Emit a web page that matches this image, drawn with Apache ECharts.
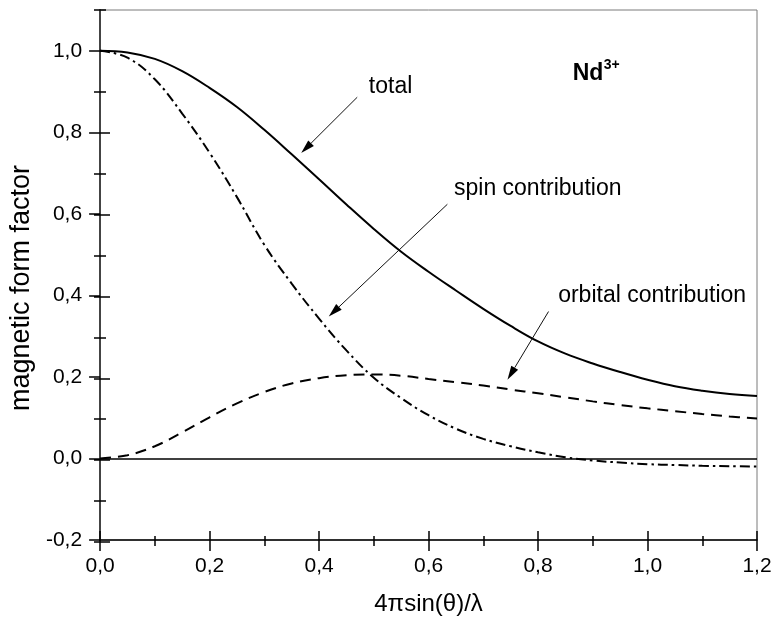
<!DOCTYPE html>
<html>
<head>
<meta charset="utf-8">
<script src="https://cdn.jsdelivr.net/npm/echarts@6/dist/echarts.min.js"></script>
<style>
  html, body { margin: 0; padding: 0; background: #fff; }
  #chart { width: 776px; height: 621px; }
</style>
</head>
<body>
<div id="chart"></div>
<script>
// Scattering vector 4πsin(θ)/λ
const qValues = [0.00, 0.05, 0.10, 0.15, 0.20, 0.25, 0.30, 0.35, 0.40, 0.45, 0.50, 0.55, 0.60,
                 0.65, 0.70, 0.75, 0.80, 0.85, 0.90, 0.95, 1.00, 1.05, 1.10, 1.15, 1.20];

// Magnetic form factor of Nd3+ and its two parts
const totalFF = [1.000, 0.996, 0.980, 0.950, 0.909, 0.862, 0.806, 0.746, 0.685, 0.623, 0.563, 0.507, 0.458,
                 0.412, 0.367, 0.325, 0.287, 0.257, 0.233, 0.212, 0.193, 0.177, 0.166, 0.158, 0.153];
const spinFF = [1.000, 0.983, 0.930, 0.846, 0.750, 0.641, 0.524, 0.429, 0.343, 0.265, 0.198, 0.148, 0.106,
                0.073, 0.048, 0.030, 0.015, 0.003, -0.005, -0.010, -0.014, -0.016, -0.018, -0.019, -0.020];
const orbitalFF = [0.000, 0.008, 0.030, 0.064, 0.101, 0.135, 0.163, 0.184, 0.197, 0.204, 0.206, 0.203, 0.195,
                   0.187, 0.179, 0.169, 0.160, 0.150, 0.140, 0.131, 0.123, 0.116, 0.109, 0.103, 0.098];

// Tick values
const yMajorTicks = [-0.2, 0.0, 0.2, 0.4, 0.6, 0.8, 1.0];
const xTitle = '4πsin(θ)/λ';
const yTitle = 'magnetic form factor';

// Callouts, in data coordinates [q, F]
const callouts = [
  { text: 'total',                at: [0.491, 0.911], from: [0.4697, 0.886], to: [0.3673, 0.749] },
  { text: 'spin contribution',    at: [0.6465, 0.662], from: [0.6344, 0.6235], to: [0.4177, 0.348] },
  { text: 'orbital contribution', at: [0.8368, 0.400], from: [0.8192, 0.3604], to: [0.7442, 0.1932] }
];
const ionLabel = { name: 'Nd', charge: '3+', at: [0.8633, 0.945], chargeAt: [0.920, 0.965] };

const FONT = '"Liberation Sans", Arial, Helvetica, sans-serif';
const fmt = v => v.toFixed(1).replace('.', ',');
const pairs = ys => qValues.map((q, i) => [q, ys[i]]);

const box = { left: 100, right: 19, top: 10, bottom: 79 };
const tickStyle = { color: '#000', width: 1.5 };

const chart = echarts.init(document.getElementById('chart'), null, { renderer: 'canvas' });

// grid 0 carries the data, labels and outward ticks; grids 1-3 add the
// inward half of each tick and the 0.1 minor ticks on the F axis.
const option = {
  animation: false,
  backgroundColor: '#fff',
  grid: [
    Object.assign({ show: true, borderColor: '#7a7a7a', borderWidth: 1, backgroundColor: 'transparent' }, box),
    Object.assign({}, box),
    Object.assign({}, box),
    Object.assign({}, box)
  ],
  xAxis: [
    {
      gridIndex: 0, type: 'value', min: 0, max: 1.2, interval: 0.2, position: 'bottom',
      axisLine: { onZero: false, lineStyle: { color: '#000', width: 1.5 } },
      axisTick: { inside: false, length: 11, lineStyle: tickStyle },
      minorTick: { show: true, splitNumber: 2, length: 6, lineStyle: tickStyle },
      splitLine: { show: false }, minorSplitLine: { show: false },
      axisLabel: { margin: 16, fontSize: 21, color: '#000', fontFamily: FONT, formatter: fmt },
      name: xTitle, nameLocation: 'middle', nameGap: 52,
      nameTextStyle: { fontSize: 24, color: '#000', fontFamily: FONT }
    },
    {
      gridIndex: 1, type: 'value', min: 0, max: 1.2, interval: 0.2, position: 'bottom',
      axisLine: { show: false, onZero: false },
      axisTick: { inside: true, length: 11, lineStyle: tickStyle },
      minorTick: { show: true, splitNumber: 2, length: 6, lineStyle: tickStyle },
      splitLine: { show: false }, axisLabel: { show: false }
    },
    { gridIndex: 2, type: 'value', min: 0, max: 1.2, show: false },
    { gridIndex: 3, type: 'value', min: 0, max: 1.2, show: false }
  ],
  yAxis: [
    {
      gridIndex: 0, type: 'value', min: -0.2, max: 1.1, interval: 0.2, position: 'left',
      axisLine: { onZero: false, lineStyle: { color: '#444', width: 2 } },
      axisTick: { inside: false, length: 11, lineStyle: tickStyle, customValues: yMajorTicks },
      splitLine: { show: false },
      axisLabel: { margin: 18, fontSize: 21, color: '#000', fontFamily: FONT, formatter: fmt, customValues: yMajorTicks },
      name: yTitle, nameLocation: 'middle', nameGap: 56,
      nameTextStyle: { fontSize: 27, color: '#000', fontFamily: FONT, padding: [0, 26, 0, 0] }
    },
    {
      gridIndex: 1, type: 'value', min: -0.2, max: 1.1, interval: 0.2, position: 'left',
      axisLine: { show: false, onZero: false },
      axisTick: { inside: true, length: 10, lineStyle: tickStyle, customValues: yMajorTicks },
      splitLine: { show: false }, axisLabel: { show: false }
    },
    {
      gridIndex: 2, type: 'value', min: -0.2, max: 1.1, interval: 0.1, position: 'left',
      axisLine: { show: false, onZero: false },
      axisTick: { inside: false, length: 6, lineStyle: tickStyle },
      splitLine: { show: false }, axisLabel: { show: false }
    },
    {
      gridIndex: 3, type: 'value', min: -0.2, max: 1.1, interval: 0.1, position: 'left',
      axisLine: { show: false, onZero: false },
      axisTick: { inside: true, length: 6, lineStyle: tickStyle },
      splitLine: { show: false }, axisLabel: { show: false }
    }
  ],
  series: [
    {
      name: 'total', type: 'line', xAxisIndex: 0, yAxisIndex: 0,
      data: pairs(totalFF), showSymbol: false, smooth: 0.4, z: 4,
      lineStyle: { color: '#000', width: 2 },
      markLine: {
        silent: true, symbol: ['none', 'none'], label: { show: false },
        lineStyle: { color: '#000', width: 1.5, type: 'solid' },
        emphasis: { disabled: true },
        data: [{ yAxis: 0 }]
      }
    },
    {
      name: 'spin contribution', type: 'line', xAxisIndex: 0, yAxisIndex: 0,
      data: pairs(spinFF), showSymbol: false, smooth: 0.4, z: 3,
      lineStyle: { color: '#000', width: 2, type: [10, 4, 2.5, 4] }
    },
    {
      name: 'orbital contribution', type: 'line', xAxisIndex: 0, yAxisIndex: 0,
      data: pairs(orbitalFF), showSymbol: false, smooth: 0.4, z: 3,
      lineStyle: { color: '#000', width: 2, type: [11, 7] }
    }
  ]
};

chart.setOption(option);

// Callout texts and arrows, placed through the axis scales
const toPx = p => chart.convertToPixel({ gridIndex: 0 }, p);
const graphics = [];
callouts.forEach(c => {
  const a = toPx(c.from), b = toPx(c.to);
  const dx = b[0] - a[0], dy = b[1] - a[1];
  const len = Math.hypot(dx, dy);
  const ux = dx / len, uy = dy / len;
  const headLen = 14, headHalf = 4;
  const bx = b[0] - ux * headLen, by = b[1] - uy * headLen;
  graphics.push({
    type: 'line', silent: true, z: 10,
    shape: { x1: a[0], y1: a[1], x2: bx, y2: by },
    style: { stroke: '#111', lineWidth: 1 }
  });
  graphics.push({
    type: 'polygon', silent: true, z: 10,
    shape: { points: [[b[0], b[1]], [bx - uy * headHalf, by + ux * headHalf], [bx + uy * headHalf, by - ux * headHalf]] },
    style: { fill: '#000' }
  });
  const t = toPx(c.at);
  graphics.push({
    type: 'text', silent: true, z: 10, x: t[0], y: t[1],
    style: { text: c.text, font: '23px ' + FONT, fill: '#000', align: 'left', verticalAlign: 'middle' }
  });
});
const ionPx = toPx(ionLabel.at), chPx = toPx(ionLabel.chargeAt);
graphics.push({
  type: 'text', silent: true, z: 10, x: ionPx[0], y: ionPx[1],
  style: { text: ionLabel.name, font: 'bold 23px ' + FONT, fill: '#000', align: 'left', verticalAlign: 'middle' }
});
graphics.push({
  type: 'text', silent: true, z: 10, x: chPx[0], y: chPx[1],
  style: { text: ionLabel.charge, font: 'bold 14px ' + FONT, fill: '#000', align: 'left', verticalAlign: 'middle' }
});
chart.setOption({ graphic: graphics });
</script>
</body>
</html>
